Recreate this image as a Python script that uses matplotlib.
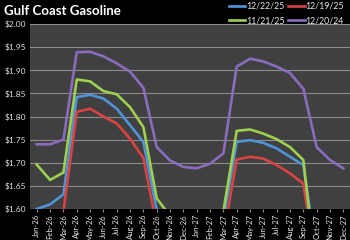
import matplotlib
matplotlib.use("Agg")
import matplotlib.pyplot as plt

months = ['Jan-26', 'Feb-26', 'Mar-26', 'Apr-26', 'May-26', 'Jun-26',
          'Jul-26', 'Aug-26', 'Sep-26', 'Oct-26', 'Nov-26', 'Dec-26',
          'Jan-27', 'Feb-27', 'Mar-27', 'Apr-27', 'May-27', 'Jun-27',
          'Jul-27', 'Aug-27', 'Sep-27', 'Oct-27', 'Nov-27', 'Dec-27']

# 12/22/25 curve
blue = [1.600, 1.610, 1.632, 1.842, 1.847, 1.839, 1.817, 1.781, 1.745, 1.598, 1.560, 1.555,
        1.555, 1.560, 1.576, 1.745, 1.749, 1.743, 1.731, 1.713, 1.695, 1.500, 1.520, 1.530]
# 12/19/25 curve
red = [1.550, 1.560, 1.595, 1.810, 1.817, 1.800, 1.785, 1.752, 1.710, 1.563, 1.540, 1.535,
       1.535, 1.540, 1.540, 1.707, 1.713, 1.709, 1.695, 1.677, 1.655, 1.470, 1.490, 1.500]
# 11/21/25 curve
green = [1.696, 1.663, 1.679, 1.880, 1.876, 1.855, 1.848, 1.820, 1.777, 1.623, 1.585, 1.575,
         1.575, 1.580, 1.595, 1.769, 1.772, 1.763, 1.751, 1.734, 1.706, 1.450, 1.480, 1.490]
# 12/20/24 curve
purple = [1.740, 1.740, 1.750, 1.939, 1.940, 1.930, 1.915, 1.897, 1.862, 1.734, 1.705, 1.691,
          1.688, 1.698, 1.720, 1.908, 1.925, 1.919, 1.908, 1.894, 1.860, 1.734, 1.706, 1.688]

plt.rcParams['font.family'] = ['Lato', 'DejaVu Sans']

fig = plt.figure(figsize=(3.5, 2.4), dpi=100, facecolor='black')
ax = fig.add_axes([0.086, 0.129, 0.914, 0.771])
ax.set_facecolor('#404040')

x = range(len(months))
ax.plot(x, blue, color='#4f93d8', lw=1.9, label='12/22/25')
ax.plot(x, red, color='#d94343', lw=1.9, label='12/19/25')
ax.plot(x, green, color='#9ed04f', lw=1.9, label='11/21/25')
ax.plot(x, purple, color='#8a6bbd', lw=1.9, label='12/20/24')

ax.set_ylim(1.60, 2.00)
ax.set_xlim(-0.5, len(months) - 0.5)
ax.set_yticks([1.60, 1.65, 1.70, 1.75, 1.80, 1.85, 1.90, 1.95, 2.00])
ax.set_yticklabels(['$%.2f' % v for v in ax.get_yticks()])
ax.set_xticks(list(x))
ax.set_xticklabels(months, rotation=90)
ax.yaxis.grid(True, color='#8c8c8c', lw=0.8)
ax.set_axisbelow(True)
for s in ax.spines.values():
    s.set_visible(False)
ax.tick_params(axis='y', length=0, colors='#e0e0e0', labelsize=6, pad=3)
ax.tick_params(axis='x', length=2, color='#8c8c8c', labelcolor='#e8e8e8', labelsize=5.6, pad=1.5)

fig.text(0.012, 0.955, 'Gulf Coast Gasoline', color='white', fontsize=9.5,
         fontweight='bold', va='center', ha='left')

handles, labels = ax.get_legend_handles_labels()
order = [0, 2, 1, 3]
leg = fig.legend([handles[i] for i in order], [labels[i] for i in order],
                 loc='upper right', bbox_to_anchor=(1.005, 1.025), ncol=2,
                 frameon=False, fontsize=6.3, handlelength=1.9, handletextpad=0.05,
                 columnspacing=0.45, labelspacing=0.6, labelcolor='#e8e8e8')

fig.savefig('out.png', dpi=100, facecolor='black')
